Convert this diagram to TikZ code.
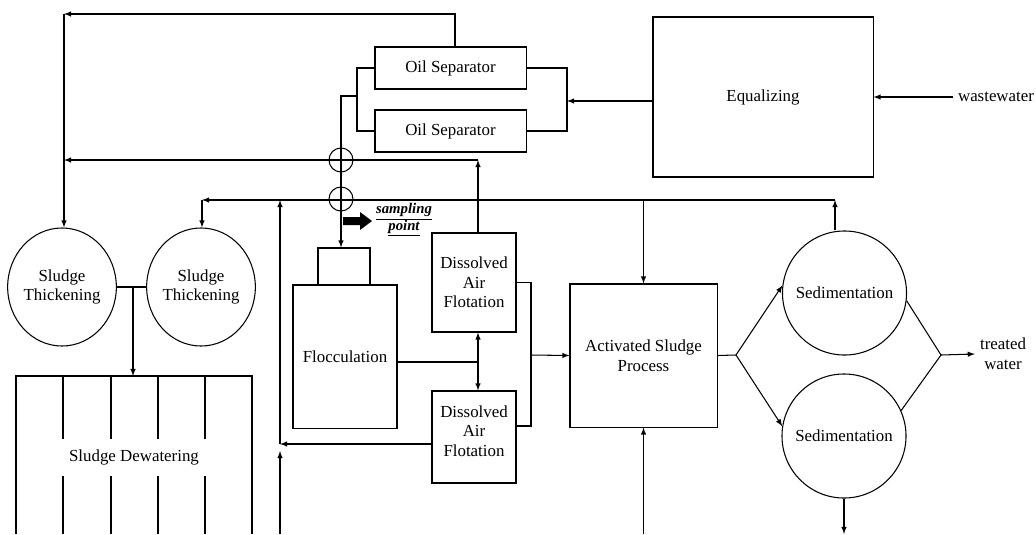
\documentclass[tikz,border=0pt]{standalone}
\usepackage{fontspec}
\setmainfont{Liberation Serif}
\usetikzlibrary{shapes.geometric}
\begin{document}
\begin{tikzpicture}[>=latex, x=0.025cm, y=-0.025cm, line width=0.75pt,
    font=\fontsize{12}{14}\selectfont,
    bloco/.style={draw, rectangle, align=center},
    tanque/.style={draw, ellipse, inner sep=0pt, align=center},
    decant/.style={draw, circle, minimum size=3.1cm, inner sep=0pt},
    hop/.style={draw, circle, minimum size=0.6cm, inner sep=0pt}]
\useasboundingbox (0,0) rectangle (1036,534);
\node[bloco, minimum width=3.775cm, minimum height=1.05cm] (os1) at (450.5,68) {Oil Separator};
\node[bloco, minimum width=3.775cm, minimum height=1.05cm] (os2) at (450.5,131) {Oil Separator};
\node[bloco, minimum width=5.5cm, minimum height=4cm] (eq) at (763,97) {Equalizing};
\node (ww) at (996,97) {wastewater};
\node[tanque, minimum width=2.5cm, minimum height=2.95cm] (st1) at (62,287) {Sludge\\Thickening};
\node[tanque, minimum width=2.6cm, minimum height=2.95cm] (st2) at (201,287) {Sludge\\Thickening};
\node (dew) at (134,457) {Sludge Dewatering};
\node[bloco, minimum width=1.3cm, minimum height=0.925cm] (fltop) at (344,266.5) {};
\node[bloco, minimum width=2.6cm, minimum height=3.575cm] (floc) at (345,356.5) {Flocculation};
\node[bloco, minimum width=2.1cm, minimum height=2.475cm] (daf1) at (474,282.5) {Dissolved\\Air\\Flotation};
\node[bloco, minimum width=2.1cm, minimum height=2.3cm] (daf2) at (474,437) {Dissolved\\Air\\Flotation\\[-5.5pt]};
\node[bloco, minimum width=3.675cm, minimum height=3.575cm] (as) at (643.5,355.5) {Activated Sludge\\Process};
\node[decant] (sed1) at (844.5,293) {Sedimentation};
\node[decant] (sed2) at (844,436) {Sedimentation};
\node[align=center] (tw) at (1003,354) {treated\\water};
\node[hop] (h1) at (341,160) {};
\node[hop] (h2) at (341,199) {};
\node[font=\fontsize{10.5}{12}\selectfont\bfseries\itshape, align=center] (sptxt) at (404,220) {\underline{sampling}\\\underline{point}};
\fill (343,217) -- (360,217) -- (360,212) -- (372,221) -- (360,230) -- (360,225) -- (343,225) -- cycle;
\draw (16,534) |- (252,376) -- (252,534);
\foreach \x in {63,111,158,205} {
  \draw (\x,376) -- (\x,439) (\x,476) -- (\x,534);
}
\draw[->] (ww.west) -- (eq.east);
\coordinate (osin) at (567,101);
\draw[->] (eq.west |- osin) -- (osin);
\draw (os1.east) -| (osin) |- (os2.east);
\coordinate (osout) at (357,96);
\coordinate (sp) at (341,96);
\draw (os1.west) -| (osout) |- (os2.west);
\draw[->] (osout) -- (sp) -- (sp |- fltop.north);
\coordinate (tl) at (64,14);
\draw[->] (455,0 |- os1.north) |- (tl);
\draw[->] (tl) -- (tl |- st1.north);
\coordinate (r1) at (478,160);
\draw[->] (r1 |- daf1.north) -- (r1);
\draw[->] (r1) -- (tl |- r1);
\coordinate (r2) at (835,200);
\coordinate (l2) at (202,200);
\draw[->] (r2 |- sed1.north) -- (r2);
\draw[->] (r2) -- (l2);
\draw[->] (l2) -- (l2 |- st2.north);
\draw[->] (as.north |- r2) -- (as.north);
\coordinate (rv) at (280,444);
\draw[->] (rv) -- (rv |- r2);
\draw[->] (daf2.west |- rv) -- (rv);
\draw[->] (280,534) -- (280,451);
\draw[->] (as.south |- 0,534) -- (as.south);
\draw[->] (sed2.south) -- (sed2.south |- 0,534);
\coordinate (dafj) at (478,362);
\draw (floc.east |- dafj) -- (dafj);
\draw[<->] (dafj |- daf1.south) -- (dafj |- daf2.north);
\coordinate (dafo) at (531,355);
\draw (daf1.east) -| (dafo) |- (daf2.east |- 0,426);
\draw[->] (dafo) -- (as.west);
\coordinate (spl) at (736,355);
\draw (as.east) -- (spl);
\draw[->] (spl) -- (sed1.173);
\draw[->] (spl) -- (sed2.171);
\coordinate (mrg) at (941,355);
\draw (sed1.-7) -- (mrg) -- (sed2.24);
\draw[->] (mrg) -- (tw.west);
\coordinate (stj) at (133,287);
\draw (st1.east) -- (st2.west);
\draw[->] (stj) -- (stj |- 0,376);
\end{tikzpicture}
\end{document}
